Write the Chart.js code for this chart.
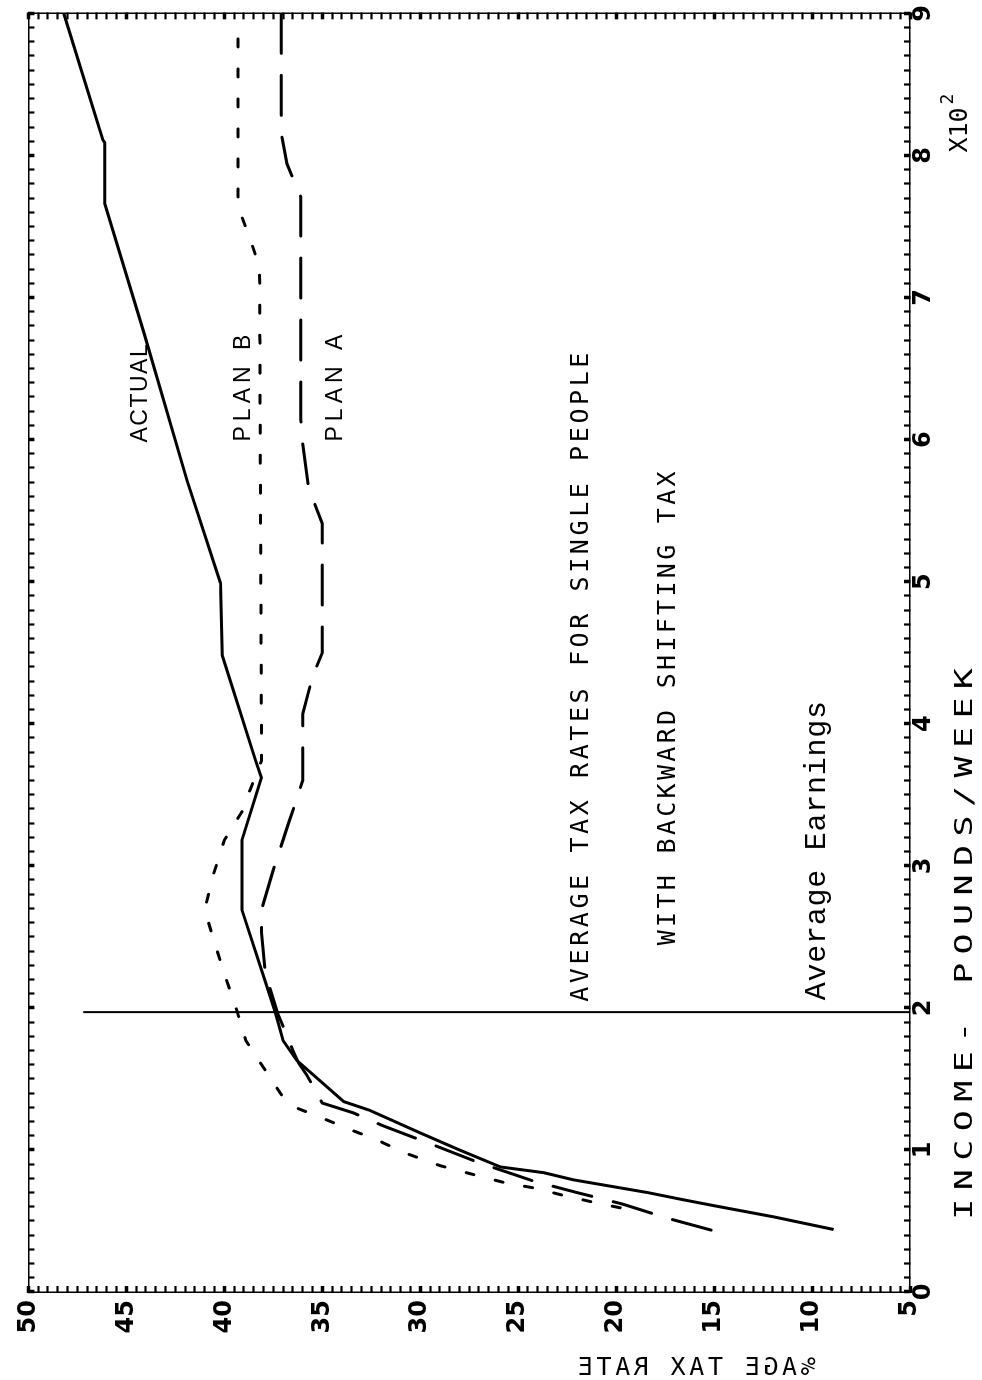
<!DOCTYPE html>
<html>
<head>
<meta charset="utf-8">
<title>Average tax rates for single people</title>
<script src="https://cdn.jsdelivr.net/npm/chart.js@4.4.1/dist/chart.umd.min.js"></script>
<style>
  html, body { margin: 0; padding: 0; background: #fff; }
  body { width: 982px; height: 1380px; overflow: hidden; position: relative; }
  /* the plot was filed sideways: draw it upright, then turn it a quarter left */
  #page {
    position: absolute; left: 0; top: 0;
    width: 1380px; height: 982px;
    transform-origin: 0 0;
    transform: translateY(1380px) rotate(-90deg);
    background: #fff;
  }
</style>
</head>
<body>
<div id="page"><canvas id="taxChart" width="1380" height="982"></canvas></div>
<script>
// income in hundreds of pounds per week (axis is marked X10^2), rate in percent
const actualIncome = [9.00, 8.11, 8.09, 7.66, 6.75, 5.71, 4.99, 4.48, 3.74, 3.62, 3.18, 2.69,
  1.97, 1.77, 1.63, 1.34, 1.28, 1.12, 1.00, 0.88, 0.84, 0.79, 0.70, 0.65, 0.61, 0.53, 0.44];
const actualRate = [48.2, 46.2, 46.1, 46.1, 44.1, 41.9, 40.2, 40.1, 38.4, 38.1, 39.1, 39.1,
  37.4, 37.0, 36.3, 33.9, 32.6, 30.0, 28.0, 25.9, 23.7, 22.2, 18.4, 16.6, 15.1, 12.0, 8.9];

const planAIncome = [9.00, 8.16, 7.94, 7.71, 6.14, 5.97, 5.66, 5.41, 4.50, 4.33, 4.07, 3.60,
  3.43, 3.31, 2.97, 2.69, 2.53, 2.24, 1.97, 1.70, 1.61, 1.53, 1.33, 1.26, 1.17, 1.06, 0.91,
  0.78, 0.70, 0.62, 0.52, 0.43];
const planARate = [37.1, 37.1, 36.8, 36.1, 36.1, 36.0, 35.7, 35.0, 35.0, 35.5, 36.0, 36.0,
  36.4, 36.7, 37.5, 38.1, 38.1, 37.9, 37.3, 36.5, 36.2, 35.8, 35.0, 33.4, 31.9, 29.8, 27.0,
  24.2, 22.0, 19.7, 17.4, 15.0];

const planBIncome = [8.82, 7.64, 7.42, 7.21, 3.74, 3.53, 3.38, 3.18, 2.92, 2.69, 2.46, 2.24,
  2.00, 1.77, 1.58, 1.37, 1.30, 1.23, 1.15, 1.07, 0.98, 0.89, 0.82, 0.77, 0.73, 0.68, 0.63, 0.59];
const planBRate = [39.3, 39.3, 38.7, 38.2, 38.1, 38.7, 39.1, 40.0, 40.6, 41.0, 40.5, 40.0,
  39.4, 38.9, 38.0, 37.0, 36.4, 35.1, 33.7, 32.2, 30.8, 29.0, 27.1, 25.7, 24.1, 22.7, 21.1, 19.7];

const avgEarningsIncome = [1.97, 1.97];
const avgEarningsRate = [5, 47.2];

const incomeTickLabels = ['0', '1', '2', '3', '4', '5', '6', '7', '8', '9'];
const rateTickLabels = ['5', '10', '15', '20', '25', '30', '35', '40', '45', '50'];

function toPoints(xs, ys) {
  return xs.map((v, i) => ({ x: v, y: ys[i] }));
}

function isWhole(v, step) {
  const q = v / step;
  return Math.abs(q - Math.round(q)) < 1e-6;
}

// text written on the plot, anchored in data units
const notes = [
  { text: 'ACTUAL', income: 6.33, rate: 43.93, font: '23px "Liberation Sans", Arial, sans-serif', spacing: 1.5 },
  { text: 'PLAN B', income: 6.38, rate: 38.67, font: '23px "Liberation Sans", Arial, sans-serif', spacing: 5 },
  { text: 'PLAN A', income: 6.38, rate: 33.98, font: '23px "Liberation Sans", Arial, sans-serif', spacing: 5 },
  { text: 'AVERAGE TAX RATES FOR SINGLE PEOPLE', income: 4.34, rate: 21.43, font: '25px "DejaVu Sans Mono", monospace', spacing: 3.6 },
  { text: 'WITH BACKWARD SHIFTING TAX', income: 4.12, rate: 16.99, font: '25px "DejaVu Sans Mono", monospace', spacing: 3.3 },
  { text: 'Average Earnings', income: 3.11, rate: 9.34, font: '30px "Courier New", "Liberation Mono", monospace', spacing: 0.75 }
];

const notesPlugin = {
  id: 'notes',
  afterDraw(chart) {
    const { ctx, scales: { x, y }, chartArea } = chart;
    ctx.save();
    ctx.fillStyle = '#000';
    ctx.textBaseline = 'alphabetic';

    notes.forEach(n => {
      ctx.save();
      ctx.font = n.font;
      ctx.letterSpacing = n.spacing + 'px';
      ctx.textAlign = 'center';
      ctx.fillText(n.text, x.getPixelForValue(n.income), y.getPixelForValue(n.rate));
      ctx.restore();
    });

    // income axis title, wide plotter lettering
    ctx.save();
    ctx.font = '25px "DejaVu Sans Mono", monospace';
    ctx.letterSpacing = '6px';
    ctx.textAlign = 'center';
    ctx.translate(x.getPixelForValue(2.48), chartArea.bottom + 62);
    ctx.scale(1.4, 1);
    ctx.fillText('INCOME- POUNDS/WEEK', 0, 0);
    ctx.restore();

    // scale factor X10^2
    ctx.save();
    ctx.font = '25px "DejaVu Sans Mono", monospace';
    ctx.textAlign = 'left';
    const sx = x.getPixelForValue(8.02);
    ctx.fillText('X10', sx, chartArea.bottom + 57);
    const w = ctx.measureText('X10').width;
    ctx.font = '18px "DejaVu Sans Mono", monospace';
    ctx.fillText('2', sx + w + 3, chartArea.bottom + 43);
    ctx.restore();

    // rate axis title comes out mirrored on the original plot
    ctx.save();
    ctx.font = '25px "DejaVu Sans Mono", monospace';
    ctx.letterSpacing = '3.5px';
    ctx.textAlign = 'center';
    ctx.translate(5, y.getPixelForValue(15.97));
    ctx.rotate(Math.PI / 2);
    ctx.scale(-1, 1);
    ctx.fillText('%AGE TAX RATE', 0, 0);
    ctx.restore();

    ctx.restore();
  }
};

function tickGrid(step) {
  return {
    drawOnChartArea: false,
    tickLength: -6,
    tickColor: '#000',
    tickWidth: c => (isWhole(c.tick.value, step) ? 3.5 : 2.2)
  };
}

const frame = { display: true, color: '#000', width: 1.5 };
const tickFont = { family: '"DejaVu Sans", sans-serif', size: 24, weight: 'bold' };

Chart.defaults.color = '#000';

new Chart(document.getElementById('taxChart'), {
  type: 'line',
  data: {
    datasets: [
      {
        label: 'ACTUAL',
        data: toPoints(actualIncome, actualRate),
        borderColor: '#000',
        borderWidth: 3,
        pointRadius: 0
      },
      {
        label: 'PLAN A',
        data: toPoints(planAIncome, planARate),
        borderColor: '#000',
        borderWidth: 3,
        borderDash: [40, 22],
        borderCapStyle: 'round',
        pointRadius: 0
      },
      {
        label: 'PLAN B',
        data: toPoints(planBIncome, planBRate),
        borderColor: '#000',
        borderWidth: 3,
        borderDash: [8, 22],
        borderCapStyle: 'round',
        pointRadius: 0
      },
      {
        label: 'Average Earnings',
        data: toPoints(avgEarningsIncome, avgEarningsRate),
        borderColor: '#000',
        borderWidth: 2,
        pointRadius: 0
      }
    ]
  },
  options: {
    responsive: false,
    animation: false,
    devicePixelRatio: 1,
    layout: { padding: 0 },
    plugins: {
      legend: { display: false },
      tooltip: { enabled: false }
    },
    scales: {
      x: {
        type: 'linear',
        position: 'bottom',
        min: 0,
        max: 9,
        afterFit: s => { s.height = 72; },
        border: frame,
        grid: tickGrid(1),
        ticks: {
          stepSize: 0.1,
          autoSkip: false,
          maxRotation: 0,
          padding: 5,
          font: tickFont,
          callback: v => (isWhole(v, 1) ? incomeTickLabels[Math.round(v)] : '')
        }
      },
      x2: {
        type: 'linear',
        position: 'top',
        min: 0,
        max: 9,
        afterFit: s => { s.height = 28; },
        border: frame,
        grid: tickGrid(1),
        ticks: { stepSize: 0.1, autoSkip: false, display: false }
      },
      y: {
        type: 'linear',
        position: 'left',
        min: 5,
        max: 50,
        afterFit: s => { s.width = 88; },
        border: frame,
        grid: tickGrid(5),
        ticks: {
          stepSize: 0.5,
          autoSkip: false,
          padding: 14,
          font: tickFont,
          callback: v => (isWhole(v, 5) ? rateTickLabels[Math.round(v / 5) - 1] : '')
        }
      },
      y2: {
        type: 'linear',
        position: 'right',
        min: 5,
        max: 50,
        afterFit: s => { s.width = 13; },
        border: frame,
        grid: tickGrid(5),
        ticks: { stepSize: 0.5, autoSkip: false, display: false }
      }
    }
  },
  plugins: [notesPlugin]
});
</script>
</body>
